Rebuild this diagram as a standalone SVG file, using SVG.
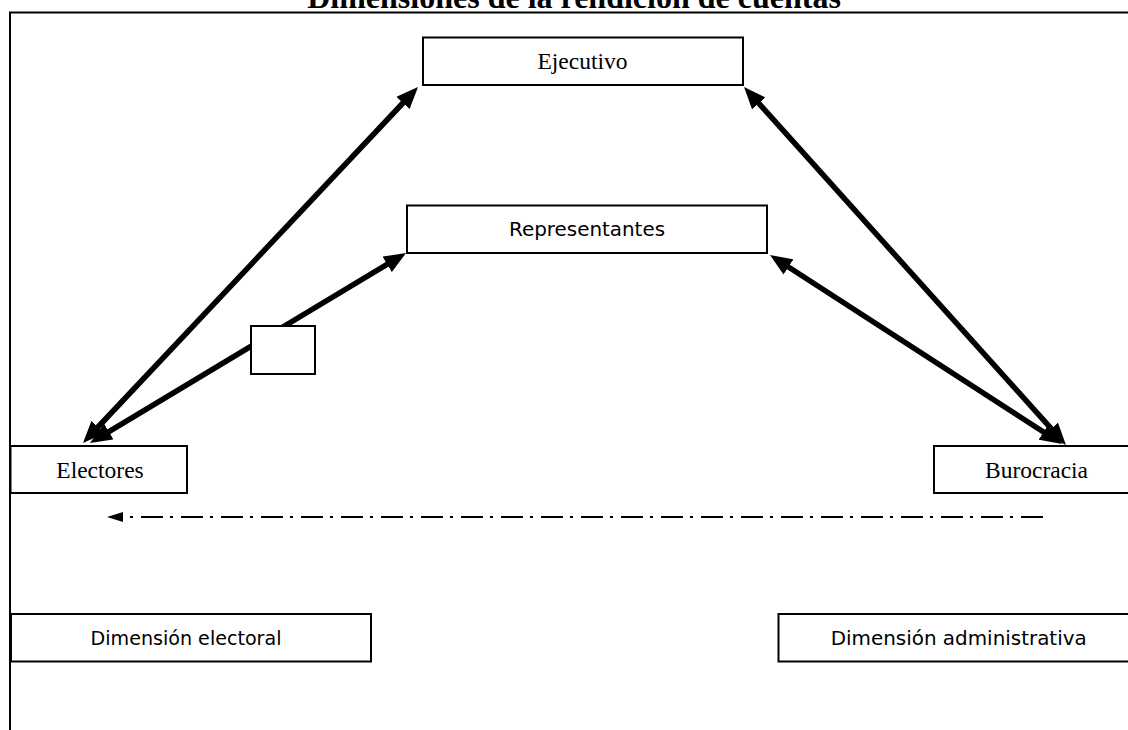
<svg xmlns="http://www.w3.org/2000/svg" width="1128" height="730" viewBox="0 0 1128 730">
  <style>
    .box { fill: #ffffff; stroke: #000000; stroke-width: 2; }
    .serif { font-family: "Liberation Serif", "Times New Roman", serif; font-size: 23.5px; fill: #000; text-anchor: middle; }
    .sans { font-family: "DejaVu Sans", "Liberation Sans", sans-serif; font-size: 20px; fill: #000; text-anchor: middle; }
    .title { font-family: "Liberation Serif", "Times New Roman", serif; font-size: 32px; font-weight: bold; fill: #000; text-anchor: middle; }
    .arrow { stroke: #000; stroke-width: 5.5; fill: none; marker-start: url(#head); marker-end: url(#head); }
    .dashdot { stroke: #000; stroke-width: 2; fill: none; stroke-dasharray: 22 8 3 7; marker-end: url(#smallhead); }
    .frame { stroke: #000; stroke-width: 2; fill: none; }
  </style>
  <defs>
    <marker id="head" viewBox="0 0 22 18" markerWidth="22" markerHeight="18" refX="11" refY="9" markerUnits="userSpaceOnUse" orient="auto-start-reverse">
      <path d="M0,0 L22,9 L0,18 z" fill="#000"/>
    </marker>
    <marker id="smallhead" viewBox="0 0 16 10" markerWidth="16" markerHeight="10" refX="0" refY="5" markerUnits="userSpaceOnUse" orient="auto">
      <path d="M0,0 L16,5 L0,10 z" fill="#000"/>
    </marker>
  </defs>

  <rect x="0" y="0" width="1128" height="730" fill="#ffffff"/>

  <text class="title" x="574" y="8">Dimensiones de la rendición de cuentas</text>

  <g id="frame">
    <path class="frame" d="M10,730 V12.5 H1128"/>
  </g>

  <g id="connectors">
    <line class="arrow" x1="90.5" y1="435" x2="410.5" y2="95"/>
    <line class="arrow" x1="99.4" y1="437.3" x2="396.6" y2="258.7"/>
    <line class="arrow" x1="1058.6" y1="436.8" x2="751.4" y2="95.2"/>
    <line class="arrow" x1="1052.8" y1="438" x2="779.2" y2="261"/>
    <path class="dashdot" d="M1043,517 H123"/>
  </g>

  <g id="ejecutivo">
    <rect class="box" x="423" y="37.5" width="320" height="47.5"/>
    <text class="serif" x="582.5" y="68.5">Ejecutivo</text>
  </g>

  <g id="representantes">
    <rect class="box" x="407" y="205.5" width="360" height="47.5"/>
    <text class="sans" x="587" y="236" textLength="156" lengthAdjust="spacingAndGlyphs">Representantes</text>
  </g>

  <g id="small-box">
    <rect class="box" x="251" y="326" width="64" height="48"/>
  </g>

  <g id="electores">
    <rect class="box" x="10.5" y="446" width="176.5" height="47"/>
    <text class="serif" x="100" y="478">Electores</text>
  </g>

  <g id="burocracia">
    <rect class="box" x="934" y="446" width="210" height="47"/>
    <text class="serif" x="1036.5" y="477.5">Burocracia</text>
  </g>

  <g id="dimension-electoral">
    <rect class="box" x="11" y="614" width="360" height="47.5"/>
    <text class="sans" x="186" y="645" textLength="191" lengthAdjust="spacingAndGlyphs">Dimensión electoral</text>
  </g>

  <g id="dimension-administrativa">
    <rect class="box" x="778.5" y="614" width="360" height="47.5"/>
    <text class="sans" x="958.7" y="645" textLength="256" lengthAdjust="spacingAndGlyphs">Dimensión administrativa</text>
  </g>
</svg>
